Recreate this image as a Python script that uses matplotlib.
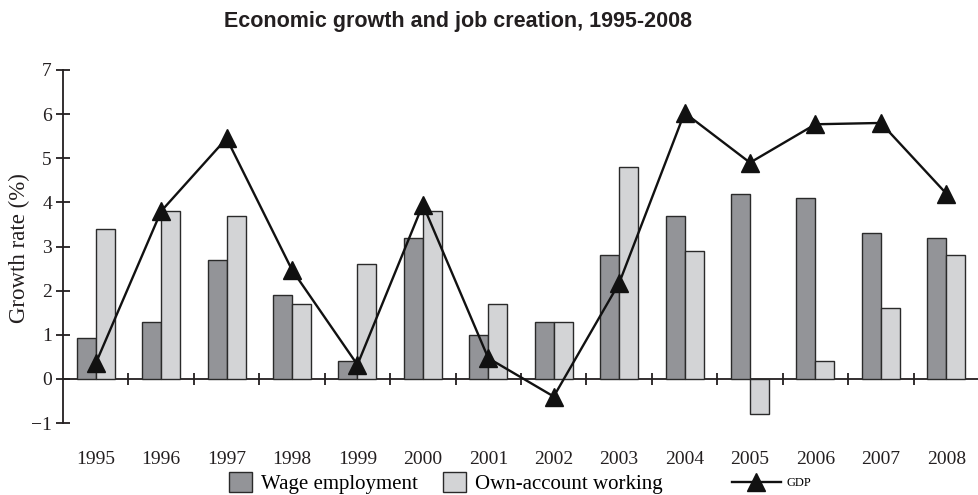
import matplotlib
matplotlib.use("Agg")
import matplotlib.pyplot as plt
import numpy as np
from matplotlib.patches import Patch
from matplotlib.lines import Line2D

# ---------------------------------------------------------------------------
# Data
# ---------------------------------------------------------------------------
years = ["1995", "1996", "1997", "1998", "1999", "2000", "2001",
         "2002", "2003", "2004", "2005", "2006", "2007", "2008"]
wage_employment = [0.93, 1.3, 2.7, 1.9, 0.4, 3.2, 1.0, 1.3, 2.8, 3.7, 4.2, 4.1, 3.3, 3.2]
own_account = [3.4, 3.8, 3.7, 1.7, 2.6, 3.8, 1.7, 1.3, 4.8, 2.9, -0.8, 0.4, 1.6, 2.8]
gdp = [0.35, 3.8, 5.45, 2.47, 0.32, 3.95, 0.47, -0.4, 2.17, 6.03, 4.9, 5.77, 5.8, 4.2]
y_ticks = [-1, 0, 1, 2, 3, 4, 5, 6, 7]

DARK = "#939498"
LIGHT = "#d3d4d6"
EDGE = "#2a2a2a"
INK = "#231f20"
SERIF = "Liberation Serif"

fig = plt.figure(figsize=(9.79, 4.95), dpi=100)
ax = fig.add_axes([63 / 979, 72 / 495, 916 / 979, 353 / 495])

x = np.arange(len(years))
w = 0.29
ax.bar(x - w / 2, wage_employment, w, color=DARK, edgecolor=EDGE, linewidth=1.0, zorder=2)
ax.bar(x + w / 2, own_account, w, color=LIGHT, edgecolor=EDGE, linewidth=1.0, zorder=2)
ax.plot(x, gdp, "-^", color="#111111", linewidth=1.7, markersize=13, zorder=3)

ax.set_xlim(-0.5, len(years) - 0.5)
ax.set_ylim(-1, 7)

for side in ("top", "right", "bottom"):
    ax.spines[side].set_visible(False)
ax.spines["left"].set_linewidth(1.3)
ax.spines["left"].set_color(INK)

ax.set_yticks(y_ticks)
ax.set_yticklabels(["\u22121" if v < 0 else str(v) for v in y_ticks],
                   fontfamily=SERIF, fontsize=14, color=INK)
ax.tick_params(axis="y", direction="inout", length=10, width=1.3, color=INK, pad=3)

ax.set_xticks(x)
ax.set_xticklabels(years, fontfamily=SERIF, fontsize=14, color=INK)
ax.tick_params(axis="x", length=0, pad=20)

# zero line with category boundary ticks
zero = ax.secondary_xaxis(1 / 8)
zero.spines["bottom"].set_linewidth(1.3)
zero.spines["bottom"].set_color(INK)
zero.set_xticks(x[:-1] + 0.5)
zero.set_xticklabels([])
zero.tick_params(direction="inout", length=9, width=1.3, color=INK)

fig.text(19 / 979, 1 - 248 / 495, "Growth rate (%)", rotation=90, ha="center", va="center",
         fontfamily=SERIF, fontsize=16.5, color=INK)

fig.text(458 / 979, 1 - 22 / 495, "Economic growth and job creation, 1995-2008",
         ha="center", va="center", fontfamily="Liberation Sans", fontweight="bold",
         fontsize=15.5, color=INK)

bar_handles = [Patch(facecolor=DARK, edgecolor=EDGE, linewidth=1.0, label="Wage employment"),
               Patch(facecolor=LIGHT, edgecolor=EDGE, linewidth=1.0, label="Own-account working")]
fig.legend(handles=bar_handles, loc="center left", bbox_to_anchor=(229 / 979, 12 / 495),
           ncol=2, frameon=False, borderpad=0, borderaxespad=0,
           handlelength=1.1, handleheight=1.1, handletextpad=0.43, columnspacing=1.2,
           prop={"family": SERIF, "size": 15})
gdp_handle = [Line2D([], [], color="#111111", linewidth=1.7, marker="^", markersize=13, label="GDP")]
fig.legend(handles=gdp_handle, loc="center left", bbox_to_anchor=(732 / 979, 12 / 495),
           frameon=False, borderpad=0, borderaxespad=0,
           handlelength=3.9, handletextpad=0.5,
           prop={"family": SERIF, "size": 9})

fig.savefig("out.png", dpi=100, facecolor="white")
